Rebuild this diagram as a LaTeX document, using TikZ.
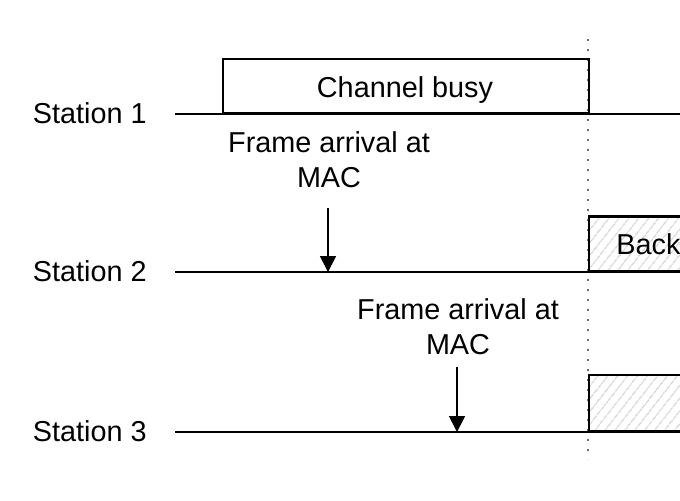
\documentclass[tikz,border=0pt]{standalone}
\usepackage{fontspec}
\setmainfont{Liberation Sans}
\usetikzlibrary{patterns.meta,arrows.meta}
\begin{document}
\begin{tikzpicture}[x=0.5pt,y=-0.5pt,
  lbl/.style={font=\fontsize{14.4}{17.5}\selectfont, inner sep=0pt},
  tline/.style={line width=1.1pt},
  boxs/.style={draw, line width=1.1pt},
  hatch/.style={pattern={Lines[angle=52,distance=4pt,line width=0.6pt]}, pattern color=black!18},
  arr/.style={line width=0.9pt, -{Triangle[length=8pt,width=8pt]}},
  dots/.style={gray!85!black, line width=1pt, dash pattern=on 1pt off 4pt}]
\useasboundingbox (0,0) rectangle (680,500);
\clip (0,0) rectangle (680,500);
% time marker
\coordinate (dtop) at (588,39);
\coordinate (dbot) at (588,459);
\draw[dots] (dtop) -- (dbot);
% station labels and time lines
\node[lbl, anchor=east] (st1) at (147,113) {Station 1};
\node[lbl, anchor=east] (st2) at (147,271) {Station 2};
\node[lbl, anchor=east] (st3) at (147,431) {Station 3};
\coordinate (l1a) at (175,114); \coordinate (l1b) at (690,114);
\coordinate (l2a) at (175,272); \coordinate (l2b) at (690,272);
\coordinate (l3a) at (175,432); \coordinate (l3b) at (690,432);
% boxes
\node[boxs, minimum width=183pt, minimum height=27pt, anchor=south west, inner sep=0pt] (busy) at (222,114) {};
\node[lbl, anchor=base] (busyt) at (405,97) {Channel busy};
\node[boxs, hatch, minimum width=60pt, minimum height=27.5pt, anchor=south west, inner sep=0pt] (bo2) at (588,272) {};
\node[lbl, anchor=base west] (bo2t) at (616,254) {Back};
\node[boxs, hatch, minimum width=60pt, minimum height=28pt, anchor=south west, inner sep=0pt] (bo3) at (588,432) {};
\draw[tline] (l1a) -- (l1b);
\draw[tline] (l2a) -- (l2b);
\draw[tline] (l3a) -- (l3b);
% frame arrivals
\node[lbl, align=center] (fa2) at (329,160) {Frame arrival at\\MAC};
\coordinate (a2s) at (328,208); \coordinate (a2e) at (328,272);
\draw[arr] (a2s) -- (a2e);
\node[lbl, align=center] (fa3) at (458,327) {Frame arrival at\\MAC};
\coordinate (a3s) at (457,367); \coordinate (a3e) at (457,432);
\draw[arr] (a3s) -- (a3e);
\end{tikzpicture}
\end{document}
